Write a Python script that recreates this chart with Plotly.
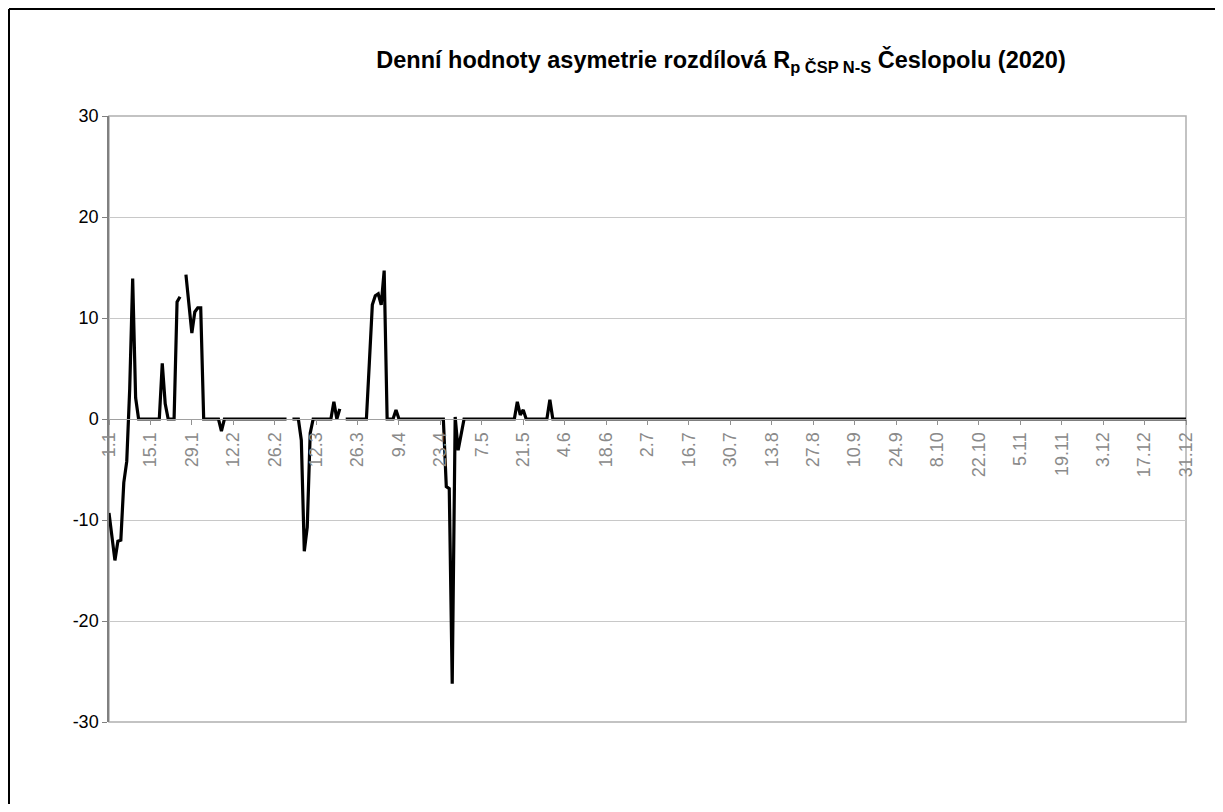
import datetime
import plotly.graph_objects as go

# Categories: daily labels "d.m" (365 days, as on the original axis)
start = datetime.date(2019, 1, 1)
days = [f"{(start + datetime.timedelta(days=i)).day}.{(start + datetime.timedelta(days=i)).month}" for i in range(365)]
tick_labels = days[::14]

# Values (None = missing day, gap in the line)
jan_feb = [-9.3, -11.8, -14.0, -12.1, -12.0, -6.3, -4.2, 3.0, 13.9, 2.1,
           0, 0, 0, 0, 0, 0, 0, 0, 5.5, 1.5,
           0, 0, 0, 11.6, 12.1, None, 14.3, 11.4, 8.5, 10.6,
           11.0, 11.0, 0, 0, 0, 0, 0, 0, -1.2, 0,
           0, 0, 0, 0, 0, 0, 0, 0, 0, 0,
           0, 0, 0, 0, 0, 0, 0, 0, 0, 0,
           0, None, 0, 0, 0, -2.1, -13.1, -10.7, -1.4, 0,
           0, 0, 0, 0, 0, 0, 1.7, 0, 1.0, None]
mar_apr = [0, 0, 0, 0, 0, 0, 0, 0, 5.6, 11.3,
           12.2, 12.4, 11.3, 14.7, 0, 0, 0, 0.9, 0, 0,
           0, 0, 0, 0, 0, 0, 0, 0, 0, 0,
           0, 0, 0, 0, -6.7, -6.9, -26.2, 0.2, -3.1, -1.5,
           0, 0, 0, 0, 0, 0, 0, 0, 0, 0,
           0, 0, 0, 0, 0, 0, 0, 0, 1.7, 0.4,
           0.9, 0, 0, 0, 0, 0, 0, 0, 0, 1.9]
rest_of_year = [0.0] * 215
values = jan_feb + mar_apr + rest_of_year

y_ticks = [-30, -20, -10, 0, 10, 20, 30]
y_tick_text = ["-30", "-20", "-10", "0", "10", "20", "30"]

fig = go.Figure()
fig.add_trace(go.Scatter(
    x=days, y=values, mode="lines",
    line=dict(color="black", width=3.2),
    connectgaps=False, showlegend=False,
))

# page body has an 8px margin, so figure coordinates are screen minus 8
W, H = 1207, 796
L, R, T, B = 101, 1178, 108, 714
pw, ph = R - L, B - T

fig.update_layout(
    width=W, height=H,
    margin=dict(l=L, r=W - R, t=T, b=H - B),
    paper_bgcolor="white", plot_bgcolor="white",
    font=dict(family="Arial, Liberation Sans, sans-serif", color="black"),
    title=dict(
        text="<b>Denní hodnoty asymetrie rozdílová R<sub>p ČSP N-S</sub> Česlopolu (2020)</b>",
        x=713 / W, xanchor="center", xref="container",
        y=1 - 52 / H, yanchor="middle", yref="container",
        font=dict(size=23.5, color="black"),
    ),
    xaxis=dict(
        type="category", range=[0, 364],
        anchor="free", position=0.5,
        tickmode="array", tickvals=tick_labels, ticktext=tick_labels,
        tickangle=-90, tickfont=dict(size=18, color="#8a8a8a"),
        ticks="outside", ticklen=5, tickcolor="#909090",
        showline=True, linecolor="#a0a0a0", linewidth=1,
        showgrid=False, zeroline=False,
    ),
    yaxis=dict(
        range=[-30, 30], tickmode="array", tickvals=y_ticks, ticktext=y_tick_text,
        tickfont=dict(size=18, color="black"),
        ticks="outside", ticklen=5, tickcolor="#808080",
        showline=True, linecolor="#808080", linewidth=1.5,
        showgrid=True, gridcolor="#c8c8c8", gridwidth=1,
        zeroline=False,
    ),
    shapes=[
        # plot-area frame
        dict(type="rect", xref="paper", yref="paper", x0=0, x1=1, y0=0, y1=1,
             line=dict(color="#b0b0b0", width=1.5), layer="below"),
        # outer chart frame (top and left edges visible)
        dict(type="line", xref="paper", yref="paper",
             x0=(1 - L) / pw, x1=(W - L) / pw,
             y0=1 + (T - 1) / ph, y1=1 + (T - 1) / ph,
             line=dict(color="black", width=2)),
        dict(type="line", xref="paper", yref="paper",
             x0=(1 - L) / pw, x1=(1 - L) / pw,
             y0=1 + (T - 1) / ph, y1=-(H - B) / ph,
             line=dict(color="black", width=2)),
    ],
)

fig.write_html("out.html")
